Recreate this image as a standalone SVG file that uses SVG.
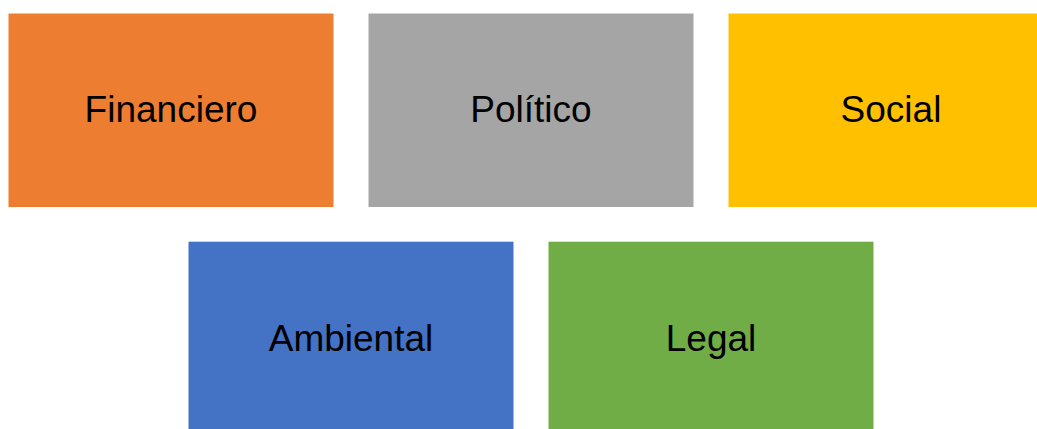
<svg xmlns="http://www.w3.org/2000/svg" width="1037" height="429" viewBox="0 0 1037 429">
<style>
.box{stroke:none}
.lbl{font-family:"Liberation Sans",Arial,sans-serif;font-size:37px;fill:#000;text-anchor:middle;dominant-baseline:central}
</style>
<rect width="1037" height="429" fill="#fff"/>
<g id="financiero"><rect class="box" x="8.5" y="13.5" width="325" height="193.5" fill="#ED7D31"/><text class="lbl" x="171" y="109">Financiero</text></g>
<g id="politico"><rect class="box" x="368.5" y="13.5" width="325" height="193.5" fill="#A5A5A5"/><text class="lbl" x="531" y="109">Político</text></g>
<g id="social"><rect class="box" x="728.5" y="13.5" width="325" height="193.5" fill="#FFC000"/><text class="lbl" x="891" y="109">Social</text></g>
<g id="ambiental"><rect class="box" x="188.5" y="241.7" width="325" height="193.5" fill="#4472C4"/><text class="lbl" x="351" y="338">Ambiental</text></g>
<g id="legal"><rect class="box" x="548.5" y="241.7" width="325" height="193.5" fill="#70AD47"/><text class="lbl" x="711" y="338">Legal</text></g>
<g id="connectors"/>
</svg>
